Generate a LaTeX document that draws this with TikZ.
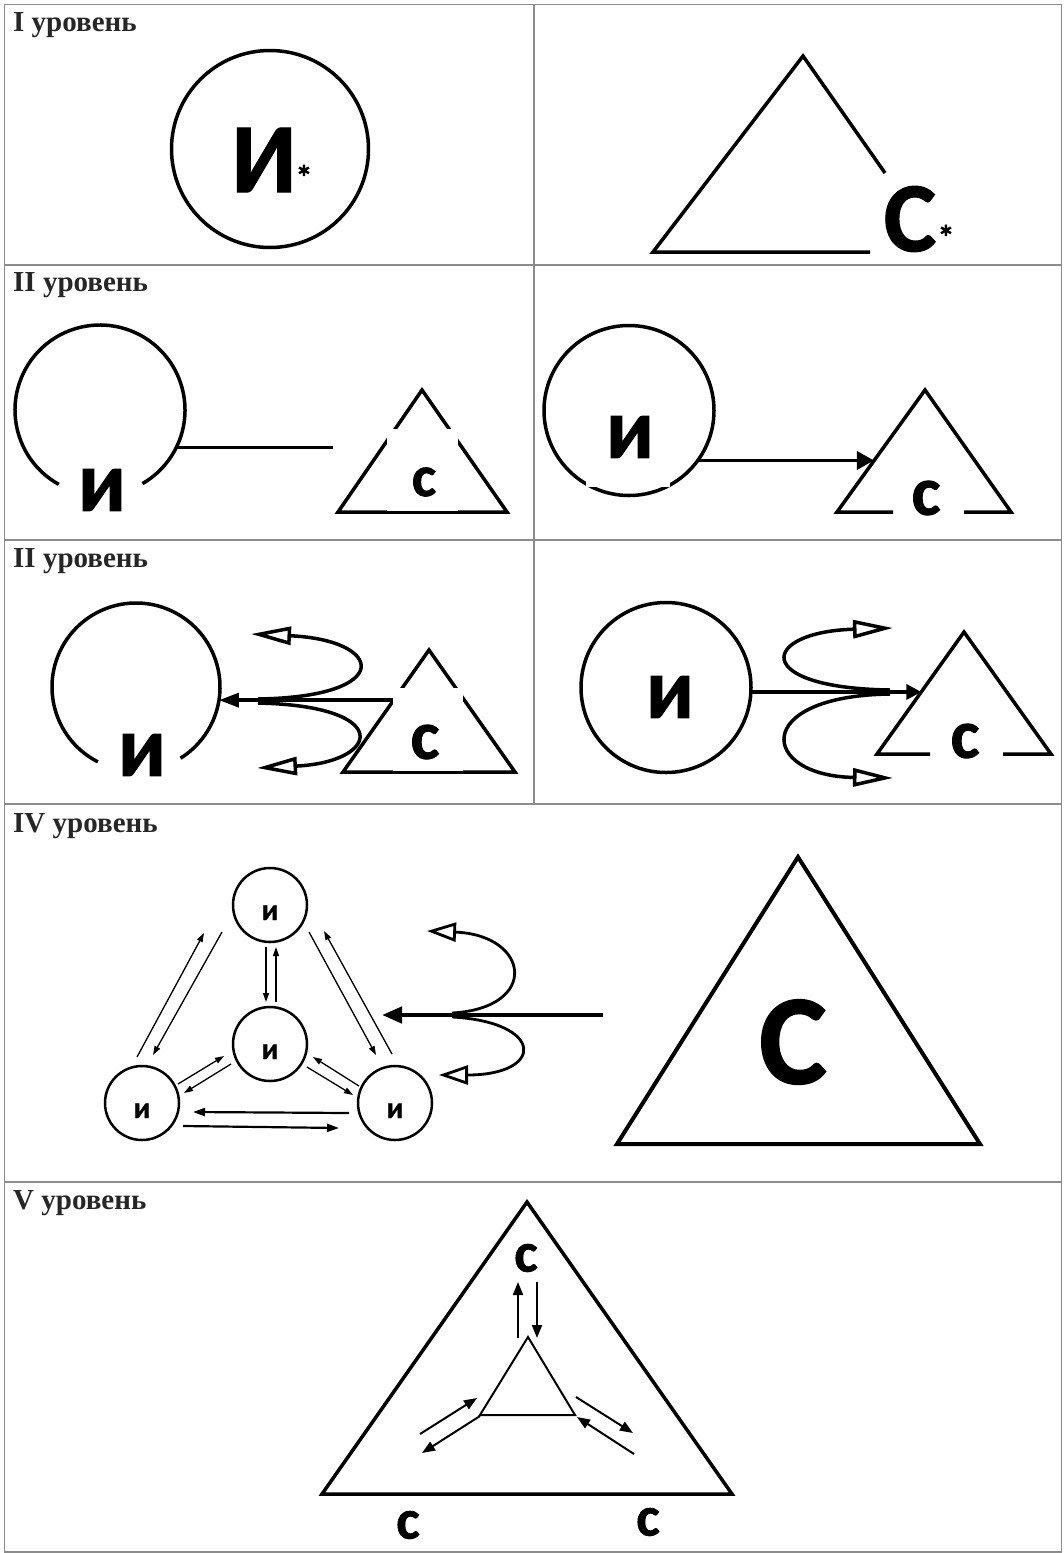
\documentclass[tikz,border=0pt]{standalone}
\usepackage{fontspec}
\setmainfont{Liberation Serif}
\newfontfamily\carl{Carlito}[BoldFeatures={FakeBold=1.2}]
\usetikzlibrary{arrows.meta,calc}

\definecolor{rulegray}{gray}{0.55}
\definecolor{capgray}{gray}{0.15}

\tikzset{
  rule/.style={draw=rulegray, line width=1.8pt},
  lvltext/.style={anchor=base west, inner sep=0pt, text=capgray,
    font=\bfseries\fontsize{29}{31}\selectfont},
  outline/.style={line width=3.5pt},
  letter/.style={inner sep=0pt, font=\carl\bfseries\fontsize{#1}{#1}\selectfont},
  aster/.style={inner sep=0pt, font=\carl\bfseries\fontsize{34}{34}\selectfont},
  ringnode/.style={circle, inner sep=0pt, outer sep=0pt, minimum size=#1},
  gapbox/.style={fill=white, inner sep=0pt},
  smallring/.style={circle, draw, line width=2.5pt, minimum size=74pt, inner sep=0pt,
    font=\carl\bfseries\fontsize{30}{30}\selectfont, text height=30pt, text depth=0pt},
  loopback/.style={outline, -{Triangle[open, length=40pt, width=18pt]}},
  loopsmall/.style={line width=2.8pt, -{Triangle[open, length=29pt, width=19pt]}},
  fine/.style={line width=1.3pt, -{Triangle[length=9pt, width=6pt]}},
  wide/.style={line width=2.2pt, -{Triangle[length=12pt, width=8pt]}},
  vecarrow/.style={line width=2pt, -{Triangle[length=13pt, width=10pt]}}
}

\begin{document}
\begin{tikzpicture}[x=1pt,y=1pt,yscale=-1,xscale=1]
    \useasboundingbox (0,0) rectangle (1064,1553);
    % table
    \draw[rule] (4.5,4.5) rectangle (1061.5,1552);
    \draw[rule] (4.5,265) -- (1061.5,265) (4.5,540) -- (1061.5,540) (4.5,804) -- (1061.5,804) (4.5,1182) -- (1061.5,1182);
    \draw[rule] (534,4.5) -- (534,804);
    \node[lvltext] (lvl1) at (13,31) {I уровень};
    \node[lvltext] (lvl2) at (13,291) {II уровень};
    \node[lvltext] (lvl3) at (13,567) {II уровень};
    \node[lvltext] (lvl4) at (13,832) {IV уровень};
    \node[lvltext] (lvl5) at (13,1209) {V уровень};

    % I
    \node[ringnode=197pt, draw, outline] (ind1) at (270,149) {};
    \node[letter=99] (ltI1) at (264,160) {И};
    \node[aster] (astI1) at (304,177) {*};
    \coordinate (s1cut) at (885,173);
    \coordinate (s1top) at (803,56);
    \coordinate (s1left) at (653,252);
    \coordinate (s1end) at (870,252);
    \draw[outline] (s1cut) -- (s1top) -- (s1left) -- (s1end);
    \node[letter=99] (ltC1) at (910,219) {С};
    \node[aster] (astC1) at (946,237) {*};

    % II, left
    \node[ringnode=170pt] (ind2) at (100,410) {};
    \draw[outline] (ind2.-119) arc[start angle=119, end angle=420, radius=85];
    \node[letter=86] (ltI2) at (102,490) {и};
    \coordinate (line2end) at (333,447);
    \draw[outline] (ind2.-26) -- (ind2.-26 -| line2end);
    \coordinate (s2top) at (422,390);
    \coordinate (s2left) at (338,512);
    \coordinate (s2right) at (507,512);
    \draw[outline] (s2left) -- (s2top) -- (s2right) -- cycle;
    \node[gapbox, minimum width=71pt, minimum height=82pt] (s2gap) at (422.5,470) {};
    \node[letter=58] (ltC2) at (424,482) {с};

    % II, right
    \node[ringnode=170pt, draw, outline] (ind3) at (629,410.5) {};
    \node[gapbox, minimum width=84pt, minimum height=77pt] (i3gap) at (628,448.5) {};
    \node[letter=86] (ltI3) at (630,437) {и};
    \coordinate (s3top) at (925,390);
    \coordinate (s3left) at (837,512);
    \coordinate (s3right) at (1011,512);
    \coordinate (s3gl) at (893,512);
    \coordinate (s3gr) at (964,512);
    \coordinate (s3hit) at ($(s3top)!0.58!(s3left)$);
    \draw[outline] (s3gl) -- (s3left) -- (s3top) -- (s3right) -- (s3gr);
    \node[letter=69] (ltC3) at (926,498) {с};
    \draw[outline, -{Triangle[length=17pt,width=18pt]}] (ind3.-36) -- (ind3.-36 -| s3hit);

    % III, left
    \node[ringnode=168pt] (ind4) at (136,687) {};
    \draw[outline] (ind4.-117) arc[start angle=117, end angle=418, radius=84];
    \node[letter=86] (ltI4) at (142,755) {и};
    \coordinate (s4top) at (429,650);
    \coordinate (s4left) at (343,772);
    \coordinate (s4right) at (515,772);
    \draw[outline] (s4left) -- (s4top) -- (s4right) -- cycle;
    \node[gapbox, minimum width=70pt, minimum height=83pt] (s4gap) at (428,729.5) {};
    \node[letter=69] (ltC4) at (425,742) {с};
    \draw[outline, -{Triangle[length=20pt,width=14pt]}] (s4gap.west |- ind4.-9) -- (ind4.-9);
    \coordinate (j4up) at (258,699);
    \coordinate (j4dn) at (258,703);
    \coordinate (o4up) at (251,634);
    \coordinate (o4dn) at (257,768);
    \draw[loopback] (j4up) .. controls (395,697) and (385,640) .. (o4up);
    \draw[loopback] (j4dn) .. controls (395,706) and (380,762) .. (o4dn);

    % III, right
    \node[ringnode=170pt, draw, outline] (ind5) at (666,687.5) {};
    \node[letter=86] (ltI5) at (670,697) {и};
    \coordinate (s5top) at (964,632);
    \coordinate (s5left) at (877,754);
    \coordinate (s5right) at (1051,754);
    \coordinate (s5gl) at (930,754);
    \coordinate (s5gr) at (1003,754);
    \coordinate (s5hit) at ($(s5top)!0.49!(s5left)$);
    \draw[outline] (s5gl) -- (s5left) -- (s5top) -- (s5right) -- (s5gr);
    \node[letter=69] (ltC5) at (965,741) {с};
    \draw[outline, -{Triangle[length=15pt,width=15pt]}] (ind5.-3) -- (ind5.-3 -| s5hit);
    \coordinate (j5up) at (890,690);
    \coordinate (j5dn) at (890,694);
    \coordinate (o5up) at (893,628);
    \coordinate (o5dn) at (893,778);
    \draw[loopback] (j5up) .. controls (750,688) and (760,632) .. (o5up);
    \draw[loopback] (j5dn) .. controls (750,696) and (760,776) .. (o5dn);

    % IV
    \node[smallring] (u1) at (270,905) {и};
    \node[smallring] (u2) at (270,1044) {и};
    \node[smallring] (u3) at (142,1103) {и};
    \node[smallring] (u4) at (395,1103) {и};
    \draw[fine] ([shift={(-5,-46)}]u3.center) -- ([shift={(-66,28)}]u1.center);
    \draw[fine] ([shift={(-48,27)}]u1.center) -- ([shift={(11,-48)}]u3.center);
    \draw[fine] ([shift={(-4,42)}]u1.center) -- ([shift={(-4,-42)}]u2.center);
    \draw[fine] ([shift={(6,-42)}]u2.center) -- ([shift={(6,42)}]u1.center);
    \draw[fine] ([shift={(39,27)}]u1.center) -- ([shift={(-19,-48)}]u4.center);
    \draw[fine] ([shift={(-3,-49)}]u4.center) -- ([shift={(54,26)}]u1.center);
    \draw[fine] ([shift={(36,-19)}]u3.center) -- ([shift={(-46,12)}]u2.center);
    \draw[fine] ([shift={(-39,20)}]u2.center) -- ([shift={(42,-10)}]u3.center);
    \draw[fine] ([shift={(37,23)}]u2.center) -- ([shift={(-42,-8)}]u4.center);
    \draw[fine] ([shift={(-36,-17)}]u4.center) -- ([shift={(43,13)}]u2.center);
    \draw[wide] ([shift={(-46,10)}]u4.center) -- ([shift={(51,9)}]u3.center);
    \draw[wide] ([shift={(41,23)}]u3.center) -- ([shift={(-56,25)}]u4.center);
    \coordinate (src6) at (603,1015);
    \coordinate (hit6) at (382,1015);
    \draw[line width=4.5pt, -{Triangle[length=20pt,width=16pt]}] (src6) -- (hit6);
    \coordinate (j6up) at (452,1013);
    \coordinate (j6dn) at (452,1017);
    \coordinate (o6up) at (427,931);
    \coordinate (o6dn) at (439,1075);
    \draw[loopsmall] (j6up) .. controls (540,1008) and (530,935) .. (o6up);
    \draw[loopsmall] (j6dn) .. controls (545,1022) and (545,1075) .. (o6dn);
    \coordinate (s6top) at (798,857);
    \coordinate (s6left) at (617,1144);
    \coordinate (s6right) at (980,1144);
    \draw[line width=4pt] (s6left) -- (s6top) -- (s6right) -- cycle;
    \node[letter=128] (ltC6) at (793,1042) {С};

    % V
    \coordinate (s7top) at (527,1202);
    \coordinate (s7left) at (322,1494);
    \coordinate (s7right) at (732,1494);
    \draw[outline] (s7left) -- (s7top) -- (s7right) -- cycle;
    \coordinate (ia) at (528,1337);
    \coordinate (ib) at (480,1415);
    \coordinate (ic) at (575,1415);
    \draw[line width=2pt] (ia) -- (ib) -- (ic) -- cycle;
    \node[letter=56] (ltC7) at (526,1258) {с};
    \node[letter=56] (ltC8) at (408,1525) {с};
    \node[letter=56] (ltC9) at (648,1522) {с};
    \draw[vecarrow] ([shift={(-10,1)}]ia) -- ([shift={(-10,-55)}]ia);
    \draw[vecarrow] ([shift={(9,-55)}]ia) -- ([shift={(9,1)}]ia);
    \draw[vecarrow] ([shift={(-60,19)}]ib) -- ([shift={(-3,-17)}]ib);
    \draw[vecarrow] ([shift={(0,1)}]ib) -- ([shift={(-58,38)}]ib);
    \draw[vecarrow] ([shift={(1,-18)}]ic) -- ([shift={(58,18)}]ic);
    \draw[vecarrow] ([shift={(59,39)}]ic) -- ([shift={(2,2)}]ic);
\end{tikzpicture}
\end{document}
